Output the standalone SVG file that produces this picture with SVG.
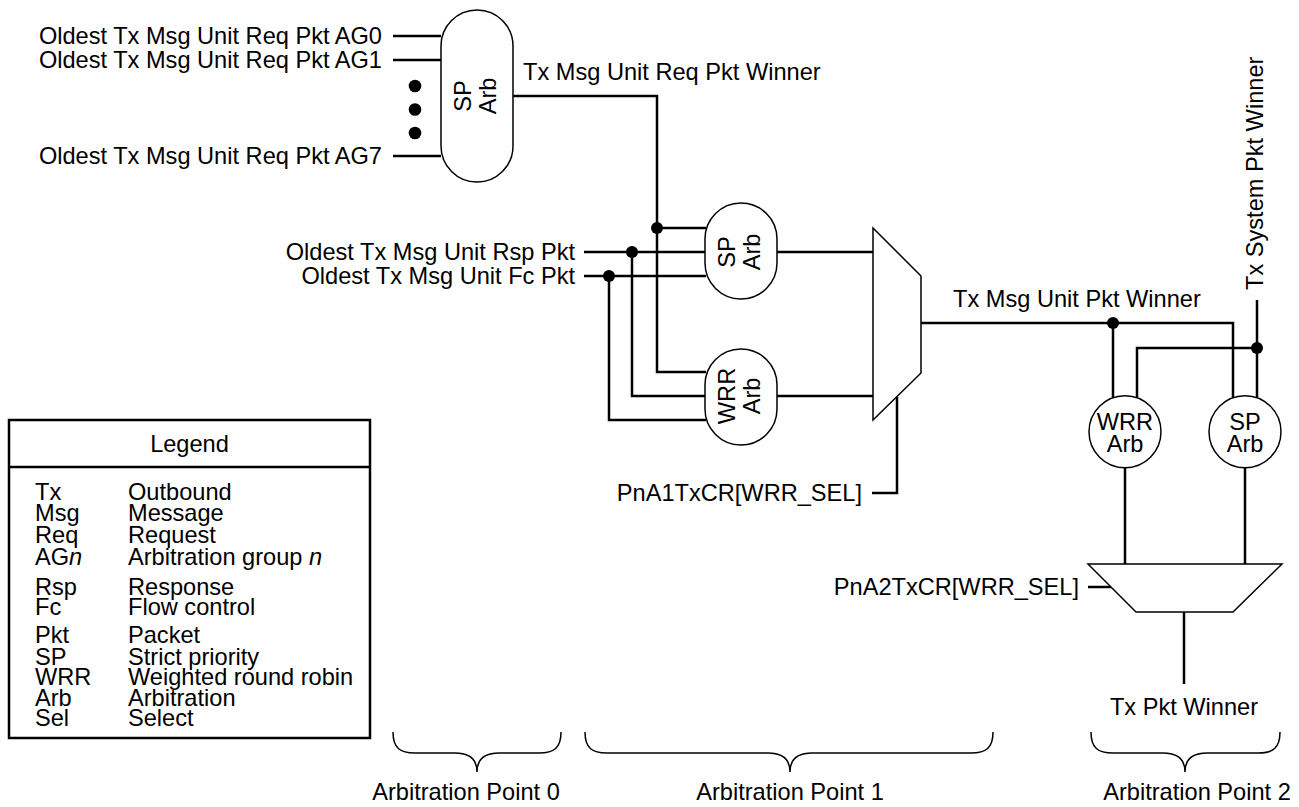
<svg xmlns="http://www.w3.org/2000/svg" width="1299" height="807" viewBox="0 0 1299 807">
<style>
text{font-family:"Liberation Sans",Arial,sans-serif;font-size:23.6px;fill:#000}
.e{text-anchor:end}.m{text-anchor:middle}
.w{fill:none;stroke:#000;stroke-width:2.5}
.n{fill:#fff;stroke:#000;stroke-width:1.5}
.d{fill:#000}
</style>
<rect width="1299" height="807" fill="#fff"/>
<g id="connectors">
<path class="w" d="M393,36H441M393,60H441M393,156H441"/>
<path class="w" d="M513,96H657V372H706M657,228H706"/>
<path class="w" d="M584,252H706M632,252V396H706M584,276H706M609,276V420H706"/>
<path class="w" d="M777,252H873M777,396H873"/>
<path class="w" d="M897,397V493H872"/>
<path class="w" d="M921,323H1233V398M1113,323V398"/>
<path class="w" d="M1137,398V348H1257M1257,300V398"/>
<path class="w" d="M1125,467V564M1245,467V564"/>
<path class="w" d="M1088,587H1111M1184,612V684"/>
<circle class="d" cx="415" cy="86" r="6.3"/>
<circle class="d" cx="415" cy="109.5" r="6.3"/>
<circle class="d" cx="415" cy="133" r="6.3"/>
<circle class="d" cx="657" cy="228" r="6"/>
<circle class="d" cx="632" cy="252" r="6"/>
<circle class="d" cx="609" cy="276" r="6"/>
<circle class="d" cx="1113" cy="323" r="6"/>
<circle class="d" cx="1257" cy="348" r="6"/>
</g>
<g id="labels">
<text class="e" x="382" y="44">Oldest Tx Msg Unit Req Pkt AG0</text>
<text class="e" x="382" y="68">Oldest Tx Msg Unit Req Pkt AG1</text>
<text class="e" x="382" y="164">Oldest Tx Msg Unit Req Pkt AG7</text>
<text x="523" y="80">Tx Msg Unit Req Pkt Winner</text>
<text class="e" x="575" y="260">Oldest Tx Msg Unit Rsp Pkt</text>
<text class="e" x="575" y="284">Oldest Tx Msg Unit Fc Pkt</text>
<text class="e" x="862" y="501">PnA1TxCR[WRR_SEL]</text>
<text x="953" y="307">Tx Msg Unit Pkt Winner</text>
<text transform="translate(1263,290) rotate(-90)">Tx System Pkt Winner</text>
<text class="e" x="1079" y="595">PnA2TxCR[WRR_SEL]</text>
<text class="m" x="1184" y="715">Tx Pkt Winner</text>
</g>
<g id="arb0-sp">
<rect class="n" x="441" y="10" width="72" height="172" rx="36"/>
<text class="m" transform="translate(471,96) rotate(-90)">SP</text>
<text class="m" transform="translate(496,96) rotate(-90)">Arb</text>
</g>
<g id="arb1-sp">
<rect class="n" x="705" y="203" width="72" height="96" rx="36"/>
<text class="m" transform="translate(735,252) rotate(-90)">SP</text>
<text class="m" transform="translate(760,252) rotate(-90)">Arb</text>
</g>
<g id="arb1-wrr">
<rect class="n" x="705" y="349" width="72" height="96" rx="36"/>
<text class="m" transform="translate(735,396) rotate(-90)">WRR</text>
<text class="m" transform="translate(760,396) rotate(-90)">Arb</text>
</g>
<g id="mux1">
<polygon class="n" points="873,228 921,276 921,373 873,420"/>
</g>
<g id="arb2-wrr">
<circle class="n" cx="1125" cy="431.7" r="36"/>
<text class="m" x="1125" y="429.5">WRR</text>
<text class="m" x="1125" y="452">Arb</text>
</g>
<g id="arb2-sp">
<circle class="n" cx="1245" cy="431.7" r="36"/>
<text class="m" x="1245" y="429.5">SP</text>
<text class="m" x="1245" y="452">Arb</text>
</g>
<g id="mux2">
<polygon class="n" points="1088,564 1282,564 1233,612 1136,612"/>
</g>
<g id="legend">
<rect x="9" y="420" width="361" height="318" fill="#fff" stroke="#000" stroke-width="2.5"/>
<line x1="9" y1="467" x2="370" y2="467" stroke="#000" stroke-width="2.5"/>
<text class="m" x="189.5" y="452">Legend</text>
<text x="35" y="500">Tx</text><text x="128" y="500">Outbound</text>
<text x="35" y="521">Msg</text><text x="128" y="521">Message</text>
<text x="35" y="543">Req</text><text x="128" y="543">Request</text>
<text x="35" y="565">AG<tspan font-style="italic">n</tspan></text><text x="128" y="565">Arbitration group <tspan font-style="italic">n</tspan></text>
<text x="35" y="595">Rsp</text><text x="128" y="595">Response</text>
<text x="35" y="615">Fc</text><text x="128" y="615">Flow control</text>
<text x="35" y="643">Pkt</text><text x="128" y="643">Packet</text>
<text x="35" y="665">SP</text><text x="128" y="665">Strict priority</text>
<text x="35" y="685">WRR</text><text x="128" y="685">Weighted round robin</text>
<text x="35" y="706">Arb</text><text x="128" y="706">Arbitration</text>
<text x="35" y="726">Sel</text><text x="128" y="726">Select</text>
</g>
<g id="braces" fill="none" stroke="#000" stroke-width="1.5">
<path d="M393,732C393,748 400,753 415,753H455C470,753 477,760 477,772C477,760 484,753 499,753H539C554,753 561,748 561,732"/>
<path d="M585,732C585,748 592,753 607,753H768C783,753 790,760 790,772C790,760 797,753 812,753H971C986,753 993,748 993,732"/>
<path d="M1091,732C1091,748 1098,753 1113,753H1163C1178,753 1185,760 1185,772C1185,760 1192,753 1207,753H1258C1273,753 1280,748 1280,732"/>
</g>
<g id="brace-labels">
<text class="m" x="466" y="800">Arbitration Point 0</text>
<text class="m" x="790" y="800">Arbitration Point 1</text>
<text class="m" x="1197" y="800">Arbitration Point 2</text>
</g>
</svg>
